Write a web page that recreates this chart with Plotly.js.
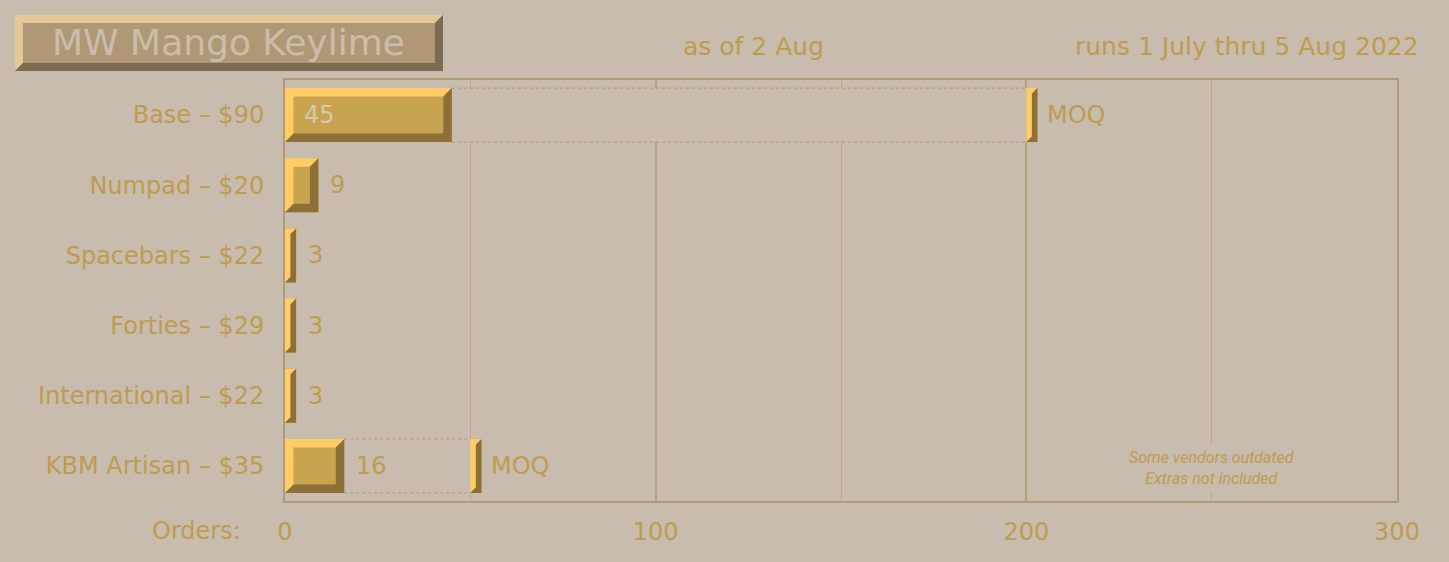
<!DOCTYPE html>
<html>
<head>
<meta charset="utf-8">
<script src="https://cdn.plot.ly/plotly-3.0.1.min.js"></script>
<style>
  html, body { margin: 0; padding: 0; background: #c8bcae; }
  #chart { width: 1449px; height: 562px; }
</style>
</head>
<body>
<div id="chart"></div>
<script>
// Group buy orders per item
var items = ["Base – $90", "Numpad – $20", "Spacebars – $22", "Forties – $29", "International – $22", "KBM Artisan – $35"];
var orders = [45, 9, 3, 3, 3, 16];
var moq = [200, null, null, null, null, 50];
var xTicks = [0, 100, 200, 300];

var bg = "#c8bcae";
var gold = "#bf9b4e";
var barMid = "#c8a350", barLight = "#ffcc66", barDark = "#8c7037";
var font = "DejaVu Sans, Open Sans, sans-serif";

// page geometry (px)
var W = 1449, H = 562, L = 285, R = 52, T = 80, B = 61;
var plotW = W - L - R, plotH = H - T - B;
var xMax = 300;
var pxX = plotW / xMax, pxRow = plotH / items.length;
var barW = 0.77, bevelPx = 8.5, markW = 3;

var rows = items.map(function (d, i) { return i; });

function px2x(p) { return (p - L) / plotW; }
function py2y(p) { return (H - B - p) / plotH; }

// bevel edges of a bar, in data units
function bevel(x0, x1, yc) {
  var bp = Math.min(bevelPx, (x1 - x0) * pxX / 2);
  var bx = bp / pxX, by = bp / pxRow;
  var top = yc - barW / 2, bot = yc + barW / 2; // y is reversed
  return {
    light: [[x0, bot], [x0, top], [x1, top], [x1 - bx, top + by], [x0 + bx, top + by], [x0 + bx, bot - by]],
    dark: [[x1, top], [x1, bot], [x0, bot], [x0 + bx, bot - by], [x1 - bx, bot - by], [x1 - bx, top + by]]
  };
}

var lightX = [], lightY = [], darkX = [], darkY = [];
function addBevel(x0, x1, yc) {
  var b = bevel(x0, x1, yc);
  b.light.forEach(function (p) { lightX.push(p[0]); lightY.push(p[1]); });
  lightX.push(null); lightY.push(null);
  b.dark.forEach(function (p) { darkX.push(p[0]); darkY.push(p[1]); });
  darkX.push(null); darkY.push(null);
}

var mBase = [], mLen = [], mRow = [];
var tgtFx = [], tgtFy = [], tgtLx = [], tgtLy = [];
rows.forEach(function (i) {
  addBevel(0, orders[i], i);
  if (moq[i] != null) {
    mBase.push(moq[i]); mLen.push(markW); mRow.push(i);
    addBevel(moq[i], moq[i] + markW, i);
    var top = i - barW / 2, bot = i + barW / 2;
    tgtFx.push(orders[i], moq[i], moq[i], orders[i], null);
    tgtFy.push(top, top, bot, bot, null);
    tgtLx.push(orders[i], moq[i], null, orders[i], moq[i], null);
    tgtLy.push(top, top, null, bot, bot, null);
  }
});

var data = [
  {
    type: "bar", orientation: "h",
    x: orders, y: rows, base: 0, width: barW,
    marker: { color: barMid, line: { width: 0 } },
    hoverinfo: "skip"
  },
  {
    type: "bar", orientation: "h",
    x: mLen, y: mRow, base: mBase, width: barW,
    marker: { color: barMid, line: { width: 0 } },
    hoverinfo: "skip"
  },
  {
    type: "scatter", mode: "lines", x: tgtFx, y: tgtFy,
    fill: "toself", fillcolor: bg, line: { width: 0 }, hoverinfo: "skip"
  },
  {
    type: "scatter", mode: "lines", x: tgtLx, y: tgtLy,
    line: { color: "#b09f84", width: 1.2, dash: "dot" }, hoverinfo: "skip"
  },
  {
    type: "scatter", mode: "lines", x: lightX, y: lightY,
    fill: "toself", fillcolor: barLight, line: { width: 0 }, hoverinfo: "skip"
  },
  {
    type: "scatter", mode: "lines", x: darkX, y: darkY,
    fill: "toself", fillcolor: barDark, line: { width: 0 }, hoverinfo: "skip"
  }
];

var annotations = [];
rows.forEach(function (i) {
  var inside = orders[i] > 30;
  annotations.push({
    x: inside ? 0 : orders[i], y: i, xref: "x", yref: "y",
    text: String(orders[i]), showarrow: false,
    xanchor: "left", yanchor: "middle", xshift: inside ? 17 : 10,
    font: { family: font, size: 24, color: inside ? "#d6c9b6" : gold }
  });
  if (moq[i] != null) {
    annotations.push({
      x: moq[i] + markW, y: i, xref: "x", yref: "y",
      text: "MOQ", showarrow: false,
      xanchor: "left", yanchor: "middle", xshift: 8,
      font: { family: font, size: 24, color: gold }
    });
  }
});

annotations.push(
  {
    xref: "paper", yref: "paper", x: px2x(228), y: py2y(43),
    text: "MW Mango Keylime", showarrow: false, xanchor: "center", yanchor: "middle",
    font: { family: font, size: 36, color: "#cbbdab" }
  },
  {
    xref: "paper", yref: "paper", x: px2x(753), y: py2y(47),
    text: "as of 2 Aug", showarrow: false, xanchor: "center", yanchor: "middle",
    font: { family: font, size: 25, color: gold }
  },
  {
    xref: "paper", yref: "paper", x: px2x(1421), y: py2y(47),
    text: "runs 1 July thru 5 Aug 2022", showarrow: false, xanchor: "right", yanchor: "middle",
    font: { family: font, size: 25, color: gold }
  },
  {
    xref: "paper", yref: "paper", x: px2x(243), y: py2y(531),
    text: "Orders:", showarrow: false, xanchor: "right", yanchor: "middle",
    font: { family: font, size: 24, color: gold }
  },
  {
    xref: "x", yref: "paper", x: 250, y: py2y(468),
    text: "Some vendors outdated<br>Extras not included", showarrow: false,
    xanchor: "center", yanchor: "middle", align: "center",
    bgcolor: bg, borderpad: 3,
    font: { family: "Roboto, sans-serif", size: 16, color: gold, style: "italic" }
  }
);

// title plate with bevel
var tx0 = px2x(15), tx1 = px2x(443), ty0 = py2y(15), ty1 = py2y(71);
var tbx = 8 / plotW, tby = 8 / plotH;
function pathOf(pts) {
  return "M" + pts.map(function (p) { return p[0] + "," + p[1]; }).join("L") + "Z";
}
var shapes = [
  { type: "rect", xref: "paper", yref: "paper", x0: tx0, x1: tx1, y0: ty1, y1: ty0,
    fillcolor: "#b09876", line: { width: 0 } },
  { type: "path", xref: "paper", yref: "paper", fillcolor: "#e6c898", line: { width: 0 },
    path: pathOf([[tx0, ty1], [tx0, ty0], [tx1, ty0], [tx1 - tbx, ty0 - tby], [tx0 + tbx, ty0 - tby], [tx0 + tbx, ty1 + tby]]) },
  { type: "path", xref: "paper", yref: "paper", fillcolor: "#7b6b50", line: { width: 0 },
    path: pathOf([[tx1, ty0], [tx1, ty1], [tx0, ty1], [tx0 + tbx, ty1 + tby], [tx1 - tbx, ty1 + tby], [tx1 - tbx, ty0 - tby]]) }
];

var layout = {
  width: W, height: H,
  margin: { l: L, r: R, t: T, b: B },
  paper_bgcolor: bg, plot_bgcolor: bg,
  showlegend: false,
  barmode: "overlay",
  xaxis: {
    range: [0, xMax], tickvals: xTicks, ticks: "",
    showgrid: true, gridcolor: "#b3a07f", gridwidth: 2,
    minor: { dtick: 50, showgrid: true, gridcolor: "#b8a88b", gridwidth: 1 },
    zeroline: false, showline: true, mirror: true, linecolor: "#b09a78", linewidth: 2,
    ticklabelstandoff: 8,
    tickfont: { family: font, size: 24, color: gold }
  },
  yaxis: {
    range: [items.length - 0.5, -0.5], tickvals: rows, ticktext: items, ticks: "",
    showgrid: false, zeroline: false, showline: true, mirror: true, linecolor: "#b09a78", linewidth: 2,
    ticklabelstandoff: 14,
    tickfont: { family: font, size: 24, color: gold }
  },
  shapes: shapes,
  annotations: annotations
};

Plotly.newPlot("chart", data, layout, { displayModeBar: false, staticPlot: true });
</script>
</body>
</html>
